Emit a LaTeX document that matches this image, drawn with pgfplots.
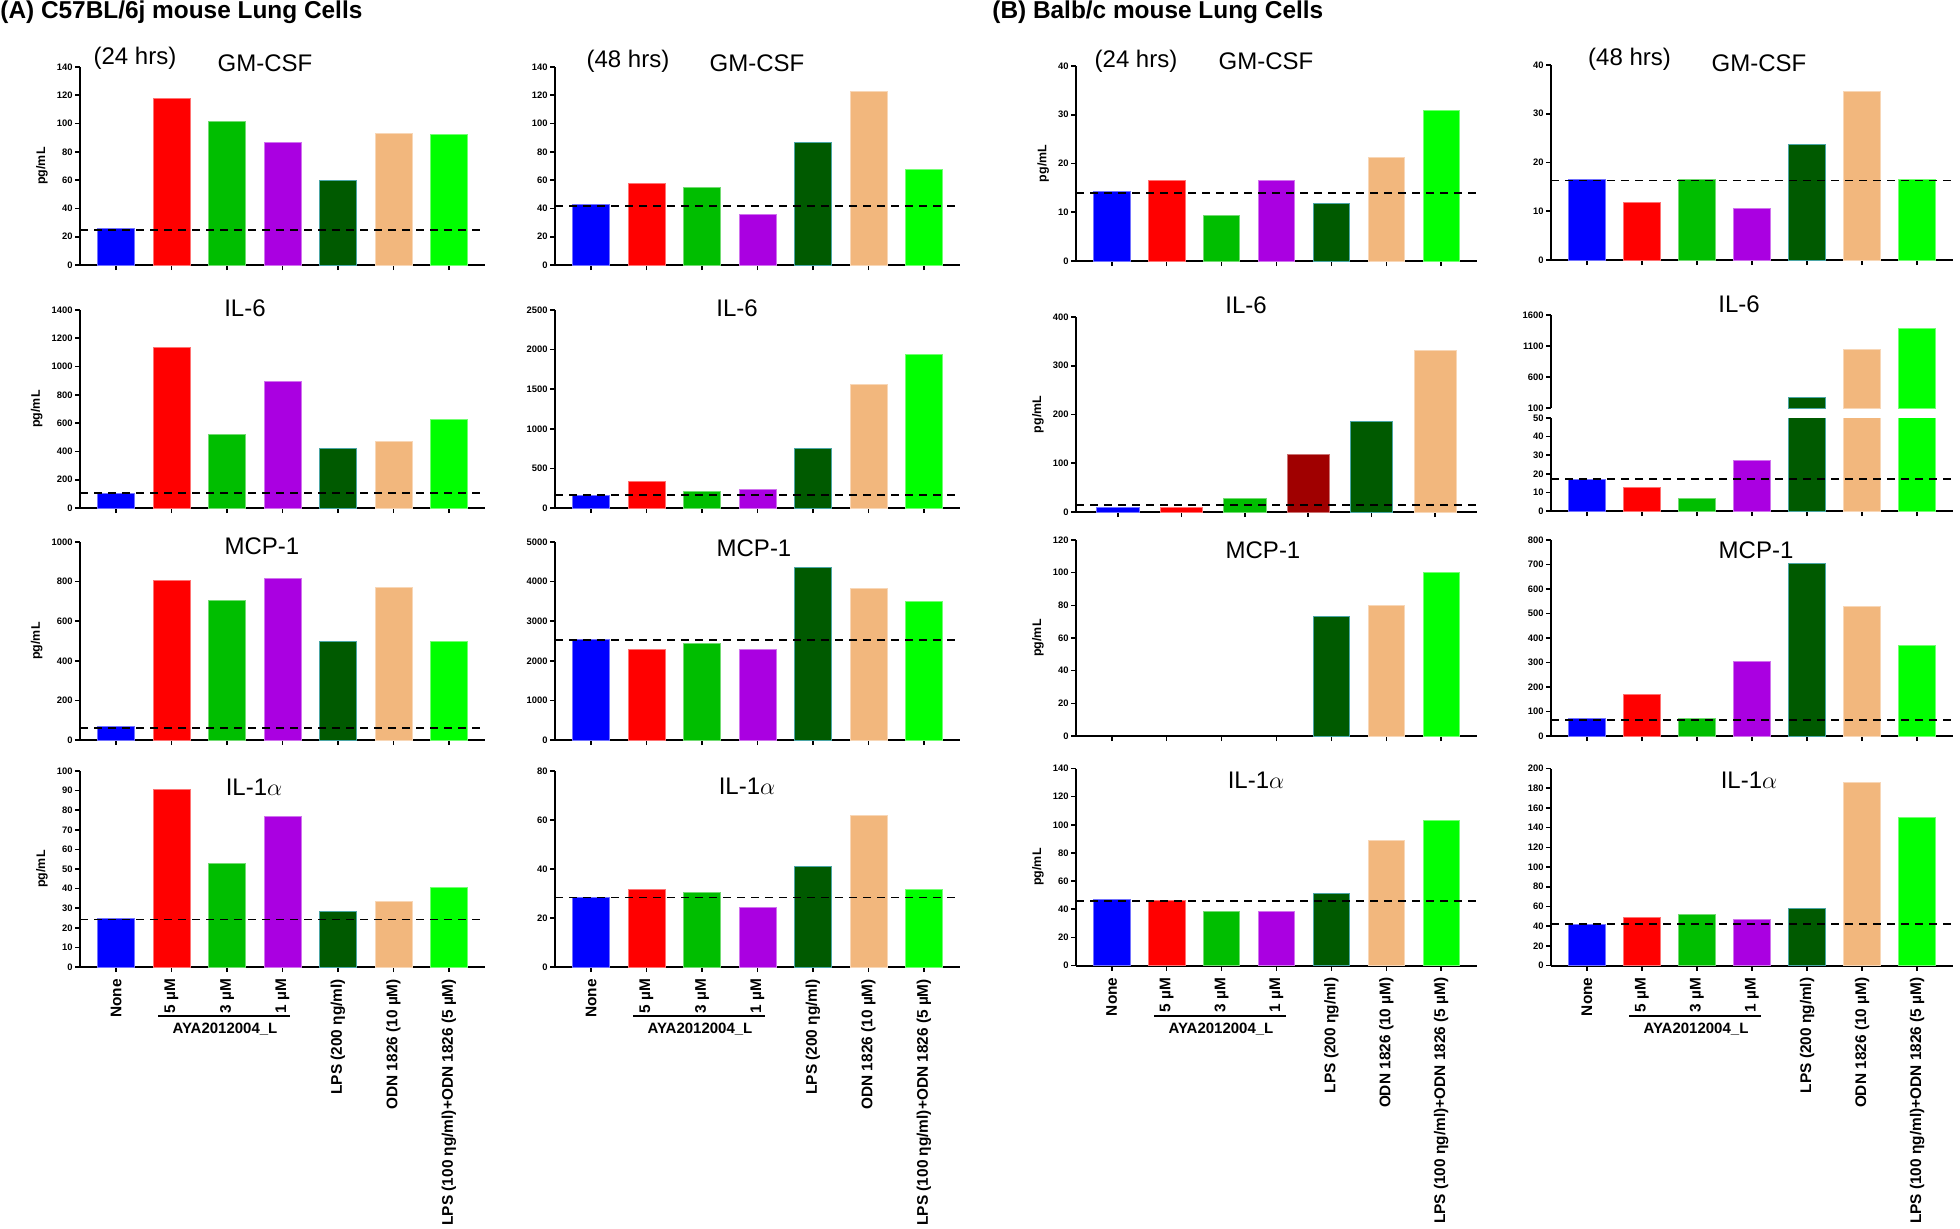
\documentclass[border=0pt]{standalone}
\usepackage{fontspec}
\setmainfont{Liberation Sans}
\usepackage{pgfplots}
\pgfplotsset{compat=1.18}

\definecolor{cB}{RGB}{0,0,255}
\definecolor{cR}{RGB}{255,0,0}
\definecolor{cG}{RGB}{0,190,0}
\definecolor{cP}{RGB}{170,0,225}
\definecolor{cD}{RGB}{0,90,0}
\definecolor{cT}{RGB}{242,183,125}
\definecolor{cL}{RGB}{0,255,0}
\definecolor{cK}{RGB}{160,0,0}

\pgfplotsset{
  panel/.style={
    scale only axis, anchor=south west,
    axis lines=left, axis line style={-, line width=1pt},
    xmin=-0.65, xmax=6.65, ymin=0,
    xtick={0,...,6}, xticklabels={},
    tick align=outside, major tick length=2.5pt,
    tick style={black, line width=0.8pt},
    yticklabel style={font=\fontsize{4.7}{5}\selectfont\bfseries, inner sep=1pt},
    ylabel style={font=\fontsize{6.2}{7}\selectfont\bfseries},
    /pgf/number format/assume math mode=true,
    /pgf/number format/1000 sep={},
    scaled y ticks=false,
  },
  bottomrow/.style={
    xticklabels={None, 5 µM, 3 µM, 1 µM, LPS (200 ηg/ml), ODN 1826 (10 µM), LPS (100 ηg/ml)+ODN 1826 (5 µM)},
    xticklabel style={rotate=90, anchor=east, font=\fontsize{7.7}{9}\selectfont\bfseries},
  },
  cbar/.style={ybar, bar shift=0pt, bar width=0.667, line width=0.4pt},
}

% one bar per treatment, in the order of the x axis
\newcommand\sevenbars[7]{%
  \addplot[cbar, fill=cB, draw=cB!55!white] coordinates {(0,#1)};
  \addplot[cbar, fill=cR, draw=cR!55!white] coordinates {(1,#2)};
  \addplot[cbar, fill=cG, draw=cG!55!white] coordinates {(2,#3)};
  \addplot[cbar, fill=cP, draw=cP!55!white] coordinates {(3,#4)};
  \addplot[cbar, fill=cD, draw=teal!70!white] coordinates {(4,#5)};
  \addplot[cbar, fill=cT, draw=cT!55!white] coordinates {(5,#6)};
  \addplot[cbar, fill=cL, draw=cL!55!white] coordinates {(6,#7)};
}
% dashed line at the control (None) level
\newcommand\refline[1]{%
  \addplot[black, line width=0.9pt, dash pattern=on 4pt off 3pt] coordinates {(-0.65,#1) (6.65,#1)};
}

\begin{document}
\begin{tikzpicture}
\useasboundingbox (0,0) rectangle (980pt,-614pt);

% ---------- row 1: GM-CSF ----------
\begin{axis}[panel, at={(40pt,-132.5pt)}, width=202.5pt, height=99pt,
  ymax=140, ytick={0,20,...,140}, ylabel={pg/mL}]
\sevenbars{25.8}{117.7}{101.2}{86.8}{59.6}{93.4}{92}
\refline{24.8}
\end{axis}

\begin{axis}[panel, at={(277.5pt,-132.5pt)}, width=202.5pt, height=99pt,
  ymax=140, ytick={0,20,...,140}]
\sevenbars{42.6}{57.7}{54.8}{35.5}{86.8}{123}{67.6}
\refline{41.8}
\end{axis}

\begin{axis}[panel, at={(538pt,-130.5pt)}, width=200.5pt, height=97.5pt,
  ymax=40, ytick={0,10,...,40}, ylabel={pg/mL}]
\sevenbars{14.2}{16.5}{9.4}{16.5}{11.8}{21.3}{30.9}
\refline{14.0}
\end{axis}

\begin{axis}[panel, at={(775.5pt,-130pt)}, width=201pt, height=97.5pt,
  ymax=40, ytick={0,10,...,40}]
\sevenbars{16.6}{11.9}{16.6}{10.6}{23.7}{34.5}{16.6}
\refline{16.3}
\end{axis}

% ---------- row 2: IL-6 ----------
\begin{axis}[panel, at={(40pt,-254pt)}, width=202.5pt, height=99pt,
  ymax=1400, ytick={0,200,...,1400}, ylabel={pg/mL}]
\sevenbars{106}{1134}{522}{897}{423}{468}{628}
\refline{106}
\end{axis}

\begin{axis}[panel, at={(277.5pt,-254pt)}, width=202.5pt, height=99pt,
  ymax=2500, ytick={0,500,...,2500}]
\sevenbars{154}{338}{206}{229}{755}{1556}{1945}
\refline{166}
\end{axis}

\begin{axis}[panel, at={(538pt,-256pt)}, width=200.5pt, height=97.5pt,
  xmin=-0.66, xmax=5.66, xtick={0,...,5},
  ymax=400, ytick={0,100,...,400}, ylabel={pg/mL}]
\addplot[cbar, fill=cB, draw=cB!55!white] coordinates {(0,8.9)};
\addplot[cbar, fill=cR, draw=cR!55!white] coordinates {(1,8.9)};
\addplot[cbar, fill=cG, draw=cG!55!white] coordinates {(2,27.3)};
\addplot[cbar, fill=cK, draw=cK!55!white] coordinates {(3,118.6)};
\addplot[cbar, fill=cD, draw=teal!70!white] coordinates {(4,185.3)};
\addplot[cbar, fill=cT, draw=cT!55!white] coordinates {(5,331.9)};
\addplot[black, line width=0.9pt, dash pattern=on 4pt off 3pt] coordinates {(-0.66,15) (5.66,15)};
\end{axis}

% broken axis: lower part 0-50
\begin{axis}[panel, at={(775.5pt,-255.5pt)}, width=201pt, height=46.5pt,
  ymax=50, ytick={0,10,...,50}]
\sevenbars{16.8}{12.5}{6.8}{27.2}{272}{1052}{1390}
\refline{17}
\end{axis}
% broken axis: upper part 100-1600 (only the bars that reach it)
\begin{axis}[panel, at={(775.5pt,-204pt)}, width=201pt, height=46.5pt,
  axis x line=none, ymin=100, ymax=1600, ytick={100,600,1100,1600}]
\addplot[cbar, fill=cD, draw=teal!70!white] coordinates {(4,272)};
\addplot[cbar, fill=cT, draw=cT!55!white] coordinates {(5,1052)};
\addplot[cbar, fill=cL, draw=cL!55!white] coordinates {(6,1390)};
\end{axis}

% ---------- row 3: MCP-1 ----------
\begin{axis}[panel, at={(40pt,-370pt)}, width=202.5pt, height=99pt,
  ymax=1000, ytick={0,200,...,1000}, ylabel={pg/mL}]
\sevenbars{67}{808}{705}{814}{496}{772}{499}
\refline{62}
\end{axis}

\begin{axis}[panel, at={(277.5pt,-370pt)}, width=202.5pt, height=99pt,
  ymax=5000, ytick={0,1000,...,5000}]
\sevenbars{2540}{2300}{2437}{2300}{4362}{3838}{3497}
\refline{2517}
\end{axis}

\begin{axis}[panel, at={(538pt,-368pt)}, width=200.5pt, height=98pt,
  ymax=120, ytick={0,20,...,120}, ylabel={pg/mL}]
% None and the three AYA2012004_L doses are 0
\addplot[cbar, fill=cD, draw=teal!70!white] coordinates {(4,73)};
\addplot[cbar, fill=cT, draw=cT!55!white] coordinates {(5,80)};
\addplot[cbar, fill=cL, draw=cL!55!white] coordinates {(6,100.2)};
\end{axis}

\begin{axis}[panel, at={(775.5pt,-368pt)}, width=201pt, height=98pt,
  ymax=800, ytick={0,100,...,800}]
\sevenbars{72}{168}{72}{304}{703}{530}{371}
\refline{65.5}
\end{axis}

% ---------- row 4: IL-1alpha ----------
\begin{axis}[panel, bottomrow, at={(40pt,-483.5pt)}, width=202.5pt, height=98pt,
  ymax=100, ytick={0,10,...,100}, ylabel={pg/mL}]
\sevenbars{24.9}{90.8}{52.7}{76.6}{28.3}{33.7}{40.5}
\refline{24.2}
\end{axis}

\begin{axis}[panel, bottomrow, at={(277.5pt,-483.5pt)}, width=202.5pt, height=98pt,
  ymax=80, ytick={0,20,...,80}]
\sevenbars{28.4}{31.7}{30.5}{24.4}{41.1}{62.0}{31.7}
\refline{28.4}
\end{axis}

\begin{axis}[panel, bottomrow, at={(538pt,-482.75pt)}, width=200.5pt, height=98.5pt,
  ymax=140, ytick={0,20,...,140}, ylabel={pg/mL}]
\sevenbars{46.7}{46.0}{38.2}{38.2}{51.5}{89.2}{102.8}
\refline{45.6}
\end{axis}

\begin{axis}[panel, bottomrow, at={(775.5pt,-482.75pt)}, width=201pt, height=98.5pt,
  ymax=200, ytick={0,20,...,200}]
\sevenbars{41.8}{48.8}{51.5}{46.8}{57.5}{186.3}{150.8}
\refline{41.8}
\end{axis}

% ---------- titles ----------
\begin{scope}[every node/.style={inner sep=0pt, anchor=base, font=\fontsize{12}{14}\selectfont}]
\node[anchor=base west, font=\fontsize{12.2}{14}\selectfont\bfseries] at (0pt,-9pt) {(A) C57BL/6j mouse Lung Cells};
\node[anchor=base west, font=\fontsize{12.2}{14}\selectfont\bfseries] at (496pt,-9pt) {(B) Balb/c mouse Lung Cells};

\node at (67.5pt,-32pt) {(24 hrs)};   \node at (132.5pt,-35.5pt) {GM-CSF};
\node at (314pt,-33.5pt) {(48 hrs)};  \node at (378.5pt,-35.5pt) {GM-CSF};
\node at (568pt,-33.5pt) {(24 hrs)};  \node at (633pt,-34.5pt) {GM-CSF};
\node at (814.75pt,-32.5pt) {(48 hrs)}; \node at (879.5pt,-35.5pt) {GM-CSF};

\node at (122.5pt,-158pt) {IL-6};
\node at (368.5pt,-158pt) {IL-6};
\node at (623pt,-156.5pt) {IL-6};
\node at (869.5pt,-156pt) {IL-6};

\node at (131pt,-277pt) {MCP-1};
\node at (377pt,-278pt) {MCP-1};
\node at (631.5pt,-279pt) {MCP-1};
\node at (878pt,-279pt) {MCP-1};

\node at (127pt,-397.5pt) {IL-1$\alpha$};
\node at (373.5pt,-397pt) {IL-1$\alpha$};
\node at (628pt,-394pt) {IL-1$\alpha$};
\node at (874.5pt,-394pt) {IL-1$\alpha$};
\end{scope}

% ---------- AYA2012004_L brackets ----------
\begin{scope}[every node/.style={inner sep=0pt, anchor=base, font=\fontsize{7.5}{9}\selectfont\bfseries}]
\draw[line width=0.8pt] (79pt,-508pt) -- (145pt,-508pt);
\node at (112.5pt,-516.5pt) {AYA2012004\_L};
\draw[line width=0.8pt] (316.5pt,-508pt) -- (382.5pt,-508pt);
\node at (350pt,-516.5pt) {AYA2012004\_L};
\draw[line width=0.8pt] (577pt,-508pt) -- (643pt,-508pt);
\node at (610.5pt,-516.5pt) {AYA2012004\_L};
\draw[line width=0.8pt] (814.5pt,-508pt) -- (880.5pt,-508pt);
\node at (848pt,-516.5pt) {AYA2012004\_L};
\end{scope}
\end{tikzpicture}
\end{document}
